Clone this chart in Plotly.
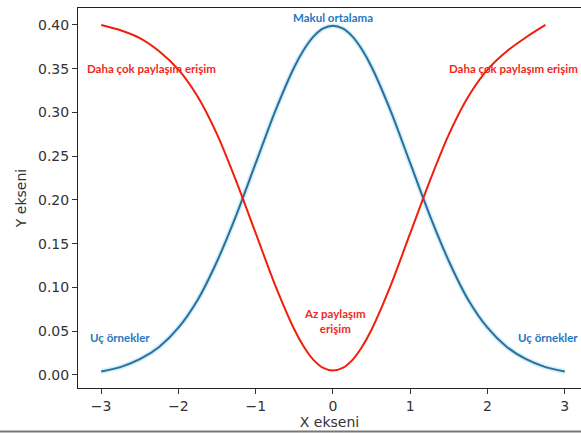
import plotly.graph_objects as go

# Data
x_blue = [-3.0, -2.75, -2.5, -2.25, -2.0, -1.75, -1.5, -1.25, -1.0, -0.75, -0.5, -0.375, -0.25, -0.125, 0.0,
          0.125, 0.25, 0.375, 0.5, 0.75, 1.0, 1.25, 1.5, 1.75, 2.0, 2.25, 2.5, 2.75, 3.0]
y_blue = [0.004, 0.009, 0.018, 0.032, 0.054, 0.086, 0.130, 0.183, 0.242, 0.301, 0.352, 0.372, 0.387, 0.396, 0.399,
          0.396, 0.387, 0.372, 0.352, 0.301, 0.242, 0.183, 0.130, 0.086, 0.054, 0.032, 0.018, 0.009, 0.004]

x_red = [-3.0, -2.75, -2.5, -2.25, -2.0, -1.75, -1.5, -1.25, -1.0, -0.75, -0.5, -0.375, -0.25, -0.125, 0.0,
         0.125, 0.25, 0.375, 0.5, 0.75, 1.0, 1.25, 1.5, 1.75, 2.0, 2.25, 2.5, 2.75]
y_red = [0.400, 0.394, 0.385, 0.370, 0.349, 0.318, 0.275, 0.221, 0.162, 0.103, 0.052, 0.032, 0.017, 0.008, 0.005,
         0.008, 0.017, 0.032, 0.052, 0.103, 0.162, 0.221, 0.275, 0.318, 0.349, 0.370, 0.386, 0.400]

x_ticks = [-3, -2, -1, 0, 1, 2, 3]
x_tick_labels = ["−3", "−2", "−1", "0", "1", "2", "3"]
y_ticks = [0.0, 0.05, 0.10, 0.15, 0.20, 0.25, 0.30, 0.35, 0.40]
y_tick_labels = ["0.00", "0.05", "0.10", "0.15", "0.20", "0.25", "0.30", "0.35", "0.40"]

# (text, x, y, colour, anchor)
labels = [
    ("Makul ortalama", 0.0, 0.408, "#1f78c1", "center"),
    ("Daha çok paylaşım erişim", -2.35, 0.350, "#ee2a1b", "center"),
    ("Daha çok paylaşım erişim", 3.195, 0.350, "#ee2a1b", "right"),
    ("Uç örnekler", -2.76, 0.043, "#1f78c1", "center"),
    ("Uç örnekler", 3.195, 0.043, "#1f78c1", "right"),
    ("Az paylaşım<br>erişim", 0.03, 0.062, "#ee2a1b", "center"),
]

fig = go.Figure()
# soft glow under the blue curve
fig.add_trace(go.Scatter(x=x_blue, y=y_blue, mode="lines",
                         line=dict(color="rgba(160,225,250,0.5)", width=5, shape="spline", smoothing=0.7),
                         hoverinfo="skip", showlegend=False))
fig.add_trace(go.Scatter(x=x_blue, y=y_blue, mode="lines",
                         line=dict(color="#2f6e98", width=2, shape="spline", smoothing=0.7),
                         showlegend=False))
fig.add_trace(go.Scatter(x=x_red, y=y_red, mode="lines",
                         line=dict(color="#f01e0a", width=2, shape="spline", smoothing=0.7),
                         showlegend=False))

for text, ax, ay, col, anc in labels:
    fig.add_annotation(x=ax, y=ay, text="<b>" + text + "</b>", showarrow=False, xref="x", yref="y",
                       font=dict(family="Lato", size=11.5, color=col), xanchor=anc, yanchor="middle")

fig.add_shape(type="line", xref="paper", yref="paper", x0=-0.2, x1=1.0, y0=-0.1145, y1=-0.1145,
              line=dict(color="#777777", width=2))

tick_font = dict(family="DejaVu Sans", size=14, color="#333333")
fig.update_layout(
    width=581, height=433,
    margin=dict(l=78, r=0, t=8, b=45),
    plot_bgcolor="white", paper_bgcolor="white",
    xaxis=dict(range=[-3.30, 3.21], tickvals=x_ticks, ticktext=x_tick_labels, ticks="outside", ticklen=5,
               tickcolor="#333", showline=True, linecolor="#222", linewidth=1, mirror=True, showgrid=False,
               zeroline=False, tickfont=tick_font, automargin=False,
               title=dict(text="X ekseni", font=tick_font, standoff=4)),
    yaxis=dict(range=[-0.0149, 0.4194], tickvals=y_ticks, ticktext=y_tick_labels, ticks="outside", ticklen=5,
               tickcolor="#333", showline=True, linecolor="#222", linewidth=1, showgrid=False,
               zeroline=False, tickfont=tick_font, automargin=False,
               title=dict(text="Y ekseni", font=tick_font, standoff=8)),
)

fig.write_html("out.html", config={"displayModeBar": False},
               post_script="document.body.style.margin='0';document.body.style.overflow='hidden';")
